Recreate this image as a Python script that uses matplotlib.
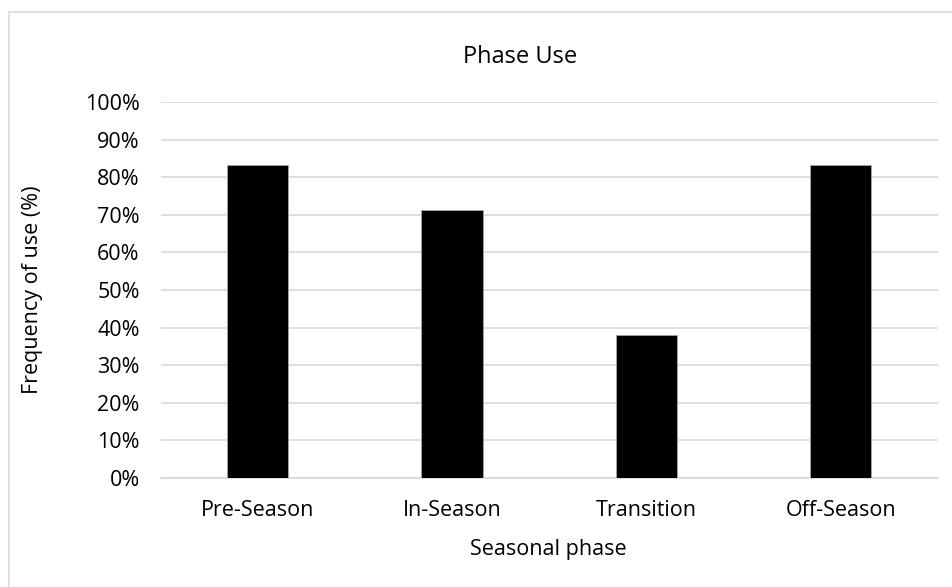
import matplotlib.pyplot as plt
from matplotlib.patches import Rectangle
from matplotlib.ticker import PercentFormatter

plt.rcParams['font.family'] = ['Open Sans', 'DejaVu Sans']

phases = ["Pre-Season", "In-Season", "Transition", "Off-Season"]
use_pct = [83.3, 71.4, 38.1, 83.3]


def main():
    fig = plt.figure(figsize=(9.52, 5.87), dpi=100)
    ax = fig.add_axes([0.1686, 0.1857, 0.8167, 0.6405])

    # chart frame, only top/left fall inside the image
    fig.patches.append(Rectangle((9 / 952, -0.1), 1.2, 1.1 - 12 / 587,
                                 transform=fig.transFigure, fill=False,
                                 edgecolor="#d9d9d9", linewidth=1.2))

    x = range(len(phases))
    ax.bar(x, use_pct, width=0.315, color="black", edgecolor="#a6a6a6",
           linewidth=0.6, zorder=3)

    ax.set_xlim(-0.5, len(phases) - 0.5)
    ax.set_ylim(0, 100)
    ax.set_yticks(range(0, 101, 10))
    ax.yaxis.set_major_formatter(PercentFormatter(decimals=0))
    ax.set_xticks(list(x))
    ax.set_xticklabels(phases)
    ax.grid(axis="y", color="#d9d9d9", linewidth=1.2, zorder=0)
    for s in ["top", "right", "left"]:
        ax.spines[s].set_visible(False)
    ax.spines["bottom"].set_color("#d9d9d9")
    ax.spines["bottom"].set_linewidth(1.2)
    ax.tick_params(length=0, labelsize=15.5, colors="black")
    ax.tick_params(axis="y", pad=15)
    ax.tick_params(axis="x", pad=16)

    fig.text(520 / 952, 1 - 57 / 587, "Phase Use", ha="center", va="center",
             fontsize=17)
    fig.text(548 / 952, 1 - 549 / 587, "Seasonal phase", ha="center",
             va="center", fontsize=15.5)
    fig.text(33 / 952, 1 - 290 / 587, "Frequency of use (%)", ha="center",
             va="center", rotation=90, fontsize=15.5)

    fig.savefig("out.png", dpi=100)


if __name__ == "__main__":
    main()
